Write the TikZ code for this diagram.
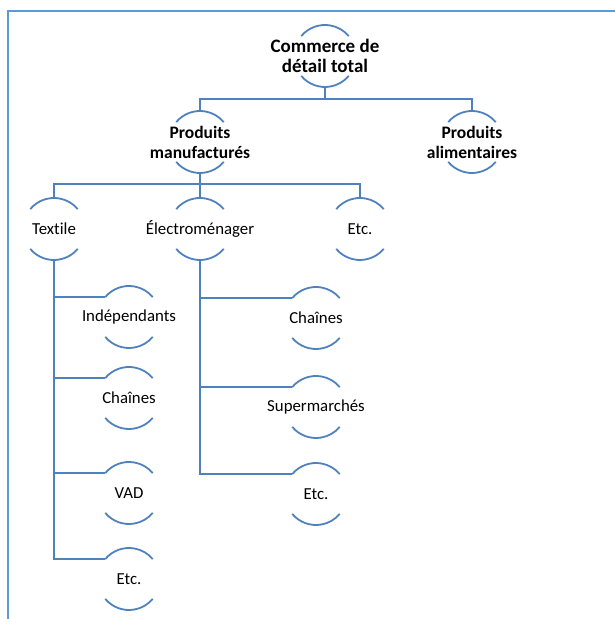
\documentclass[tikz,border=0pt]{standalone}
\usepackage{fontspec}
\setmainfont{Carlito}[Ligatures=NoCommon]
\definecolor{linkblue}{HTML}{4F81BD}
\definecolor{frameblue}{HTML}{5B9BD5}
\tikzset{hnode/.style = {shape=circle,minimum size=62pt,inner sep=0pt,outer sep=0pt}}
\tikzset{lbl/.style = {align=center,font=\fontsize{16.8}{20}\selectfont}}
\tikzset{toplbl/.style = {lbl,font=\fontsize{19}{20}\selectfont\bfseries}}
\tikzset{midlbl/.style = {lbl,font=\fontsize{17.5}{20}\selectfont\bfseries}}
\tikzset{link/.style = {draw=linkblue,line width=1.8pt}}

\begin{document}
\begin{tikzpicture}[x=1pt,y=1pt]
\useasboundingbox (0,0) rectangle (615,619);

% frame
\draw[frameblue,line width=2.5pt] (8,-5) -- (8,608) -- (625,608);

% levels 1 and 2
\node[hnode,label={[toplbl]center:{Commerce de\\détail total}}] (root) at (325,563) {};
\node[hnode,label={[midlbl]center:{Produits\\manufacturés}}] (pm) at (200,477) {};
\node[hnode,label={[midlbl]center:{Produits\\alimentaires}}] (pa) at (472,477) {};

% level 3
\node[hnode,label={[lbl]center:Textile}] (textile) at (54,390) {};
\node[hnode,label={[lbl]center:Électroménager}] (electro) at (200,390) {};
\node[hnode,label={[lbl]center:Etc.}] (etc1) at (360,390) {};

% level 4
\node[hnode,label={[lbl]center:Indépendants}] (ind) at (129,302) {};
\node[hnode,label={[lbl]center:Chaînes}] (chT) at (129,221) {};
\node[hnode,label={[lbl]center:VAD}] (vad) at (129,126) {};
\node[hnode,label={[lbl]center:Etc.}] (etcT) at (129,40) {};

\node[hnode,label={[lbl]center:Chaînes}] (chE) at (316,301) {};
\node[hnode,label={[lbl]center:Supermarchés}] (sup) at (316,212) {};
\node[hnode,label={[lbl]center:Etc.}] (etcE) at (316,125) {};

% arcs
\foreach \n in {root,pm,pa,textile,electro,etc1,ind,chT,vad,etcT,chE,sup,etcE} {
  \draw[link] (\n.140) arc (140:40:31pt);
  \draw[link] (\n.220) arc (220:320:31pt);
}

% connectors
\foreach \c in {pm,pa}
  \draw[link] (root.south) -- ++(0,-12) -| (\c.north);
\foreach \c in {textile,electro,etc1}
  \draw[link] (pm.south) -- ++(0,-11) -| (\c.north);
\foreach \c in {ind,chT,vad,etcT}
  \draw[link] (textile.south) |- (\c.140);
\foreach \c in {chE,sup,etcE}
  \draw[link] (electro.south) |- (\c.140);

\end{tikzpicture}
\end{document}
